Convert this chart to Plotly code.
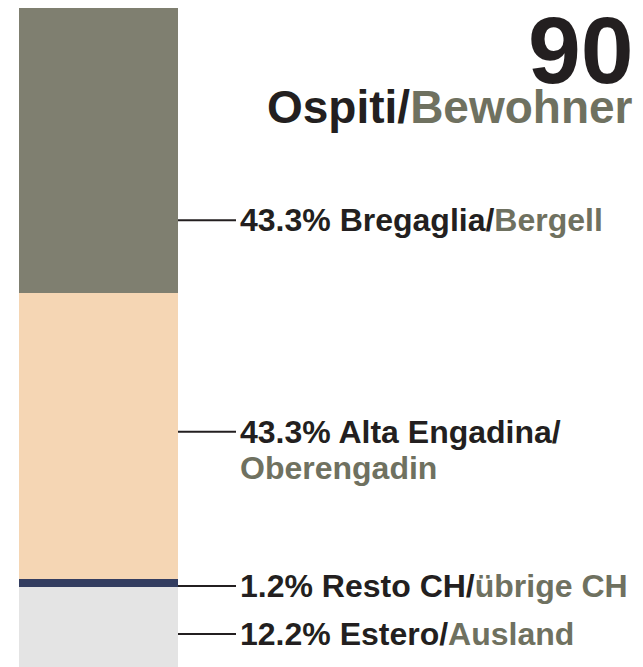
import plotly.graph_objects as go

# segments from bottom to top
categories = ["Estero/Ausland", "Resto CH/übrige CH", "Alta Engadina/Oberengadin", "Bregaglia/Bergell"]
percent = [12.2, 1.2, 43.3, 43.3]
colors = ["#e4e4e4", "#333d60", "#f5d6b4", "#7f7f70"]
label_it = ["Estero/", "Resto CH/", "Alta Engadina/", "Bregaglia/"]
label_de = ["Ausland", "übrige CH", "Oberengadin", "Bergell"]
wrap_de = [False, False, True, False]
total = 90

# where the leader lines point (in % of the bar)
label_y = [5.0, 12.3, 35.7, 67.8]

grey_txt = "#6f7160"
black_txt = "#231f20"
font = "Liberation Sans, Arial, sans-serif"
lbl_size = 32

fig = go.Figure()
for c, p, col in zip(categories, percent, colors):
    fig.add_trace(go.Bar(x=[90.5], y=[p], width=159, name=c, marker=dict(color=col, line=dict(width=0)),
                         hoverinfo="skip"))

for i in range(len(categories)):
    fig.add_shape(type="line", x0=170, x1=228, y0=label_y[i], y1=label_y[i],
                  line=dict(color=black_txt, width=2))
    de = f"<span style='color:{grey_txt}'>{label_de[i]}</span>"
    if wrap_de[i]:
        fig.add_annotation(x=230, y=label_y[i], text=f"<b>{percent[i]:.1f}% {label_it[i]}</b>",
                           xanchor="left", yanchor="middle", showarrow=False,
                           font=dict(size=lbl_size, color=black_txt, family=font))
        fig.add_annotation(x=230, y=label_y[i], text=f"<b>{de}</b>", yshift=-36,
                           xanchor="left", yanchor="middle", showarrow=False,
                           font=dict(size=lbl_size, color=black_txt, family=font))
    else:
        fig.add_annotation(x=230, y=label_y[i], text=f"<b>{percent[i]:.1f}% {label_it[i]}{de}</b>",
                           xanchor="left", yanchor="middle", showarrow=False,
                           font=dict(size=lbl_size, color=black_txt, family=font))

fig.add_annotation(x=628, y=93.7, text=f"<b>{total}</b>", xanchor="right", yanchor="middle",
                   showarrow=False, font=dict(size=95, color=black_txt, family=font))
fig.add_annotation(x=627, y=85.0, text=f"<b>Ospiti/<span style='color:{grey_txt}'>Bewohner</span></b>",
                   xanchor="right", yanchor="middle", showarrow=False,
                   font=dict(size=46, color=black_txt, family=font))

fig.update_layout(
    barmode="stack", showlegend=False,
    width=635, height=659,
    margin=dict(l=0, r=0, t=0, b=0),
    paper_bgcolor="white", plot_bgcolor="white",
    xaxis=dict(range=[0, 635], visible=False, fixedrange=True),
    yaxis=dict(range=[0, 100], visible=False, fixedrange=True),
)

fig.write_html("out.html")
